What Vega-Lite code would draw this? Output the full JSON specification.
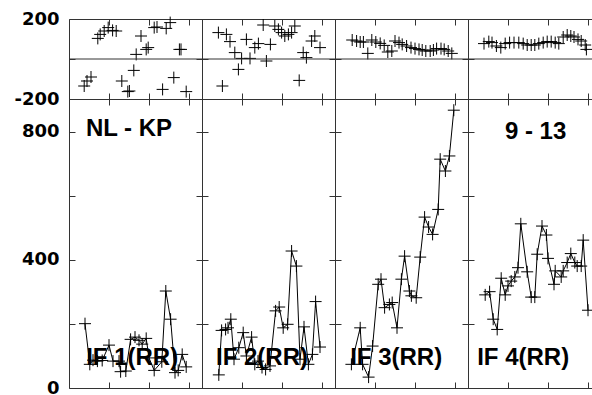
{
  "$schema": "https://vega.github.io/schema/vega-lite/v6.json",
  "padding": {"left": 13, "top": 9, "right": 5, "bottom": 5},
  "config": {
    "view": {"stroke": "#333", "strokeWidth": 1},
    "axis": {"labels": false, "domain": false, "grid": false, "ticks": true, "tickSize": -6, "tickColor": "#333", "tickWidth": 1, "labelFont": "DejaVu Sans", "labelFontSize": 18, "labelFontWeight": "bold", "labelColor": "black", "labelPadding": 16, "labelFlush": false, "labelOverlap": false}
  },
  "datasets": {
    "amp": [
      {"p":1,"x":0.40,"y":201},{"p":1,"x":0.52,"y":74},{"p":1,"x":0.60,"y":87},{"p":1,"x":0.71,"y":84},{"p":1,"x":0.83,"y":86},{"p":1,"x":1.00,"y":134},{"p":1,"x":1.10,"y":84},{"p":1,"x":1.25,"y":84},{"p":1,"x":1.29,"y":51},{"p":1,"x":1.42,"y":53},{"p":1,"x":1.54,"y":152},{"p":1,"x":1.65,"y":159},{"p":1,"x":1.75,"y":149},{"p":1,"x":1.83,"y":137},{"p":1,"x":1.93,"y":155},{"p":1,"x":2.00,"y":94},{"p":1,"x":2.13,"y":55},{"p":1,"x":2.32,"y":82},{"p":1,"x":2.42,"y":303},{"p":1,"x":2.54,"y":215},{"p":1,"x":2.65,"y":48},{"p":1,"x":2.73,"y":55},{"p":1,"x":2.83,"y":105},{"p":1,"x":2.93,"y":66},
      {"p":2,"x":0.42,"y":41},{"p":2,"x":0.49,"y":180},{"p":2,"x":0.59,"y":183},{"p":2,"x":0.65,"y":188},{"p":2,"x":0.72,"y":215},{"p":2,"x":0.80,"y":90},{"p":2,"x":0.92,"y":126},{"p":2,"x":1.03,"y":173},{"p":2,"x":1.11,"y":100},{"p":2,"x":1.24,"y":159},{"p":2,"x":1.32,"y":74},{"p":2,"x":1.40,"y":84},{"p":2,"x":1.50,"y":64},{"p":2,"x":1.59,"y":58},{"p":2,"x":1.70,"y":69},{"p":2,"x":1.84,"y":241},{"p":2,"x":1.93,"y":253},{"p":2,"x":2.03,"y":188},{"p":2,"x":2.14,"y":199},{"p":2,"x":2.24,"y":428},{"p":2,"x":2.36,"y":381},{"p":2,"x":2.45,"y":90},{"p":2,"x":2.55,"y":191},{"p":2,"x":2.66,"y":74},{"p":2,"x":2.76,"y":105},{"p":2,"x":2.84,"y":270},{"p":2,"x":2.95,"y":128},
      {"p":3,"x":0.41,"y":74},{"p":3,"x":0.63,"y":188},{"p":3,"x":0.69,"y":74},{"p":3,"x":0.84,"y":34},{"p":3,"x":0.94,"y":131},{"p":3,"x":1.08,"y":324},{"p":3,"x":1.15,"y":340},{"p":3,"x":1.24,"y":251},{"p":3,"x":1.36,"y":261},{"p":3,"x":1.43,"y":267},{"p":3,"x":1.55,"y":188},{"p":3,"x":1.66,"y":340},{"p":3,"x":1.74,"y":412},{"p":3,"x":1.86,"y":303},{"p":3,"x":1.91,"y":288},{"p":3,"x":2.03,"y":282},{"p":3,"x":2.13,"y":409},{"p":3,"x":2.24,"y":534},{"p":3,"x":2.34,"y":503},{"p":3,"x":2.44,"y":480},{"p":3,"x":2.58,"y":558},{"p":3,"x":2.63,"y":715},{"p":3,"x":2.76,"y":678},{"p":3,"x":2.86,"y":725},{"p":3,"x":2.97,"y":868},
      {"p":4,"x":0.43,"y":291},{"p":4,"x":0.54,"y":301},{"p":4,"x":0.63,"y":215},{"p":4,"x":0.73,"y":183},{"p":4,"x":0.83,"y":343},{"p":4,"x":0.93,"y":291},{"p":4,"x":1.00,"y":319},{"p":4,"x":1.08,"y":334},{"p":4,"x":1.17,"y":347},{"p":4,"x":1.25,"y":376},{"p":4,"x":1.32,"y":513},{"p":4,"x":1.48,"y":363},{"p":4,"x":1.58,"y":284},{"p":4,"x":1.67,"y":284},{"p":4,"x":1.73,"y":418},{"p":4,"x":1.85,"y":506},{"p":4,"x":1.96,"y":478},{"p":4,"x":2.00,"y":405},{"p":4,"x":2.15,"y":324},{"p":4,"x":2.18,"y":366},{"p":4,"x":2.33,"y":347},{"p":4,"x":2.38,"y":366},{"p":4,"x":2.48,"y":392},{"p":4,"x":2.57,"y":420},{"p":4,"x":2.67,"y":392},{"p":4,"x":2.73,"y":381},{"p":4,"x":2.83,"y":381},{"p":4,"x":2.88,"y":462},{"p":4,"x":3.00,"y":243}
    ],
    "ph": [
      {"p":1,"x":0.38,"y":-135},{"p":1,"x":0.45,"y":-110},{"p":1,"x":0.55,"y":-90},{"p":1,"x":0.72,"y":103},{"p":1,"x":0.78,"y":123},{"p":1,"x":0.88,"y":140},{"p":1,"x":0.98,"y":157},{"p":1,"x":1.09,"y":143},{"p":1,"x":1.18,"y":140},{"p":1,"x":1.32,"y":-110},{"p":1,"x":1.47,"y":-163},{"p":1,"x":1.51,"y":-160},{"p":1,"x":1.62,"y":-57},{"p":1,"x":1.68,"y":23},{"p":1,"x":1.80,"y":115},{"p":1,"x":1.93,"y":48},{"p":1,"x":1.98,"y":57},{"p":1,"x":2.13,"y":157},{"p":1,"x":2.20,"y":160},{"p":1,"x":2.34,"y":-152},{"p":1,"x":2.43,"y":153},{"p":1,"x":2.53,"y":182},{"p":1,"x":2.62,"y":-93},{"p":1,"x":2.76,"y":48},{"p":1,"x":2.80,"y":48},{"p":1,"x":2.93,"y":-163},
      {"p":2,"x":0.41,"y":132},{"p":2,"x":0.51,"y":-135},{"p":2,"x":0.61,"y":123},{"p":2,"x":0.70,"y":87},{"p":2,"x":0.82,"y":32},{"p":2,"x":0.91,"y":-52},{"p":2,"x":0.99,"y":3},{"p":2,"x":1.11,"y":98},{"p":2,"x":1.20,"y":3},{"p":2,"x":1.32,"y":57},{"p":2,"x":1.41,"y":77},{"p":2,"x":1.53,"y":170},{"p":2,"x":1.61,"y":-10},{"p":2,"x":1.71,"y":73},{"p":2,"x":1.82,"y":165},{"p":2,"x":1.91,"y":148},{"p":2,"x":1.99,"y":132},{"p":2,"x":2.07,"y":115},{"p":2,"x":2.16,"y":123},{"p":2,"x":2.24,"y":132},{"p":2,"x":2.32,"y":165},{"p":2,"x":2.43,"y":-107},{"p":2,"x":2.53,"y":32},{"p":2,"x":2.61,"y":7},{"p":2,"x":2.74,"y":90},{"p":2,"x":2.82,"y":115},{"p":2,"x":2.95,"y":57},
      {"p":3,"x":0.43,"y":95},{"p":3,"x":0.54,"y":90},{"p":3,"x":0.63,"y":85},{"p":3,"x":0.71,"y":85},{"p":3,"x":0.82,"y":28},{"p":3,"x":0.92,"y":95},{"p":3,"x":1.02,"y":85},{"p":3,"x":1.13,"y":78},{"p":3,"x":1.23,"y":68},{"p":3,"x":1.32,"y":35},{"p":3,"x":1.42,"y":40},{"p":3,"x":1.50,"y":90},{"p":3,"x":1.60,"y":82},{"p":3,"x":1.68,"y":73},{"p":3,"x":1.79,"y":65},{"p":3,"x":1.90,"y":57},{"p":3,"x":2.00,"y":52},{"p":3,"x":2.10,"y":48},{"p":3,"x":2.18,"y":45},{"p":3,"x":2.27,"y":40},{"p":3,"x":2.38,"y":40},{"p":3,"x":2.46,"y":45},{"p":3,"x":2.54,"y":52},{"p":3,"x":2.65,"y":52},{"p":3,"x":2.73,"y":48},{"p":3,"x":2.83,"y":40},{"p":3,"x":2.92,"y":28},
      {"p":4,"x":0.40,"y":77},{"p":4,"x":0.52,"y":87},{"p":4,"x":0.60,"y":82},{"p":4,"x":0.71,"y":65},{"p":4,"x":0.82,"y":57},{"p":4,"x":0.93,"y":77},{"p":4,"x":1.04,"y":82},{"p":4,"x":1.15,"y":82},{"p":4,"x":1.27,"y":82},{"p":4,"x":1.38,"y":77},{"p":4,"x":1.48,"y":70},{"p":4,"x":1.58,"y":70},{"p":4,"x":1.67,"y":70},{"p":4,"x":1.77,"y":77},{"p":4,"x":1.88,"y":82},{"p":4,"x":1.98,"y":87},{"p":4,"x":2.08,"y":87},{"p":4,"x":2.18,"y":82},{"p":4,"x":2.27,"y":77},{"p":4,"x":2.38,"y":110},{"p":4,"x":2.48,"y":120},{"p":4,"x":2.57,"y":115},{"p":4,"x":2.65,"y":110},{"p":4,"x":2.75,"y":98},{"p":4,"x":2.83,"y":90},{"p":4,"x":2.93,"y":70},{"p":4,"x":2.96,"y":48}
    ],
    "lbl": [
      {"p":1,"x":1.58,"y":94,"t":"IF 1(RR)"},{"p":2,"x":1.50,"y":94,"t":"IF 2(RR)"},{"p":3,"x":1.53,"y":94,"t":"IF 3(RR)"},{"p":4,"x":1.38,"y":94,"t":"IF 4(RR)"},{"p":1,"x":1.5,"y":809,"t":"NL - KP"},{"p":4,"x":1.69,"y":800,"t":"9 - 13"}
    ]
  },
  "columns": 4,
  "spacing": 0,
  "bounds": "flush",
  "concat": [
      {"width":133,"height":80,"layer":[
        {"data":{"name":"ph"},"transform":[{"filter":"datum.p==1"}],"mark":{"type":"point","shape":"M-1,0H1M0,-1V1","size":144,"filled":false,"stroke":"black","strokeWidth":1,"opacity":1},
         "encoding":{"x":{"field":"x","type":"quantitative","scale":{"domain":[0,3.325],"nice":false,"zero":false},"axis":{"orient":"bottom","values":[1,2,3],"title":null}},
                     "y":{"field":"y","type":"quantitative","scale":{"domain":[-200,200],"nice":false,"zero":false},"axis":{"orient":"left","values":[-200,0,200],"title":null,"labels":true,"labelExpr":"datum.value == 200 ? '200' : (datum.value == -200 ? '-200' : '')"}}}},
        {"data":{"values":[{}]},"mark":{"type":"rule","color":"#333","strokeWidth":1},
         "encoding":{"x":{"datum":0,"type":"quantitative","scale":{"domain":[0,3.325],"nice":false,"zero":false},"axis":{"orient":"top","values":[1,2,3],"title":null}},"x2":{"datum":3.325},
                     "y":{"datum":0,"type":"quantitative","scale":{"domain":[-200,200],"nice":false,"zero":false},"axis":{"orient":"right","values":[-200,0,200],"title":null}}}}
      ]},
      {"width":133,"height":80,"layer":[
        {"data":{"name":"ph"},"transform":[{"filter":"datum.p==2"}],"mark":{"type":"point","shape":"M-1,0H1M0,-1V1","size":144,"filled":false,"stroke":"black","strokeWidth":1,"opacity":1},
         "encoding":{"x":{"field":"x","type":"quantitative","scale":{"domain":[0,3.325],"nice":false,"zero":false},"axis":{"orient":"bottom","values":[1,2,3],"title":null}},
                     "y":{"field":"y","type":"quantitative","scale":{"domain":[-200,200],"nice":false,"zero":false},"axis":{"orient":"left","values":[-200,0,200],"title":null}}}},
        {"data":{"values":[{}]},"mark":{"type":"rule","color":"#333","strokeWidth":1},
         "encoding":{"x":{"datum":0,"type":"quantitative","scale":{"domain":[0,3.325],"nice":false,"zero":false},"axis":{"orient":"top","values":[1,2,3],"title":null}},"x2":{"datum":3.325},
                     "y":{"datum":0,"type":"quantitative","scale":{"domain":[-200,200],"nice":false,"zero":false},"axis":{"orient":"right","values":[-200,0,200],"title":null}}}}
      ]},
      {"width":133,"height":80,"layer":[
        {"data":{"name":"ph"},"transform":[{"filter":"datum.p==3"}],"mark":{"type":"point","shape":"M-1,0H1M0,-1V1","size":144,"filled":false,"stroke":"black","strokeWidth":1,"opacity":1},
         "encoding":{"x":{"field":"x","type":"quantitative","scale":{"domain":[0,3.325],"nice":false,"zero":false},"axis":{"orient":"bottom","values":[1,2,3],"title":null}},
                     "y":{"field":"y","type":"quantitative","scale":{"domain":[-200,200],"nice":false,"zero":false},"axis":{"orient":"left","values":[-200,0,200],"title":null}}}},
        {"data":{"values":[{}]},"mark":{"type":"rule","color":"#333","strokeWidth":1},
         "encoding":{"x":{"datum":0,"type":"quantitative","scale":{"domain":[0,3.325],"nice":false,"zero":false},"axis":{"orient":"top","values":[1,2,3],"title":null}},"x2":{"datum":3.325},
                     "y":{"datum":0,"type":"quantitative","scale":{"domain":[-200,200],"nice":false,"zero":false},"axis":{"orient":"right","values":[-200,0,200],"title":null}}}}
      ]},
      {"width":133,"height":80,"layer":[
        {"data":{"name":"ph"},"transform":[{"filter":"datum.p==4"}],"mark":{"type":"point","shape":"M-1,0H1M0,-1V1","size":144,"filled":false,"stroke":"black","strokeWidth":1,"opacity":1},
         "encoding":{"x":{"field":"x","type":"quantitative","scale":{"domain":[0,3.325],"nice":false,"zero":false},"axis":{"orient":"bottom","values":[1,2,3],"title":null}},
                     "y":{"field":"y","type":"quantitative","scale":{"domain":[-200,200],"nice":false,"zero":false},"axis":{"orient":"left","values":[-200,0,200],"title":null}}}},
        {"data":{"values":[{}]},"mark":{"type":"rule","color":"#333","strokeWidth":1},
         "encoding":{"x":{"datum":0,"type":"quantitative","scale":{"domain":[0,3.325],"nice":false,"zero":false},"axis":{"orient":"top","values":[1,2,3],"title":null}},"x2":{"datum":3.325},
                     "y":{"datum":0,"type":"quantitative","scale":{"domain":[-200,200],"nice":false,"zero":false},"axis":{"orient":"right","values":[-200,0,200],"title":null}}}}
      ]},
      {"width":133,"height":289,"layer":[
        {"data":{"name":"amp"},"transform":[{"filter":"datum.p==1"}],"mark":{"type":"line","color":"black","strokeWidth":1},
         "encoding":{"x":{"field":"x","type":"quantitative","scale":{"domain":[0,3.325],"nice":false,"zero":false},"axis":{"orient":"bottom","values":[1,2,3],"title":null}},
                     "y":{"field":"y","type":"quantitative","scale":{"domain":[0,903],"nice":false,"zero":false},"axis":{"orient":"left","values":[0,200,400,600,800],"title":null,"labels":true,"labelExpr":"datum.value % 400 == 0 ? datum.label : ''"}}}},
        {"data":{"name":"amp"},"transform":[{"filter":"datum.p==1"}],"mark":{"type":"point","shape":"M-1,0H1M0,-1V1","size":144,"filled":false,"stroke":"black","strokeWidth":1,"opacity":1},
         "encoding":{"x":{"field":"x","type":"quantitative","scale":{"domain":[0,3.325],"nice":false,"zero":false},"axis":{"orient":"top","values":[1,2,3],"title":null}},
                     "y":{"field":"y","type":"quantitative","scale":{"domain":[0,903],"nice":false,"zero":false},"axis":{"orient":"right","values":[0,200,400,600,800],"title":null}}}},
        {"data":{"name":"lbl"},"transform":[{"filter":"datum.p==1"}],"mark":{"type":"text","font":"Liberation Sans","fontWeight":"bold","fontSize":24,"color":"black","align":"center","baseline":"middle"},
         "encoding":{"x":{"field":"x","type":"quantitative","axis":null},"y":{"field":"y","type":"quantitative","axis":null},"text":{"field":"t"}}}
      ]},
      {"width":133,"height":289,"layer":[
        {"data":{"name":"amp"},"transform":[{"filter":"datum.p==2"}],"mark":{"type":"line","color":"black","strokeWidth":1},
         "encoding":{"x":{"field":"x","type":"quantitative","scale":{"domain":[0,3.325],"nice":false,"zero":false},"axis":{"orient":"bottom","values":[1,2,3],"title":null}},
                     "y":{"field":"y","type":"quantitative","scale":{"domain":[0,903],"nice":false,"zero":false},"axis":{"orient":"left","values":[0,200,400,600,800],"title":null}}}},
        {"data":{"name":"amp"},"transform":[{"filter":"datum.p==2"}],"mark":{"type":"point","shape":"M-1,0H1M0,-1V1","size":144,"filled":false,"stroke":"black","strokeWidth":1,"opacity":1},
         "encoding":{"x":{"field":"x","type":"quantitative","scale":{"domain":[0,3.325],"nice":false,"zero":false},"axis":{"orient":"top","values":[1,2,3],"title":null}},
                     "y":{"field":"y","type":"quantitative","scale":{"domain":[0,903],"nice":false,"zero":false},"axis":{"orient":"right","values":[0,200,400,600,800],"title":null}}}},
        {"data":{"name":"lbl"},"transform":[{"filter":"datum.p==2"}],"mark":{"type":"text","font":"Liberation Sans","fontWeight":"bold","fontSize":24,"color":"black","align":"center","baseline":"middle"},
         "encoding":{"x":{"field":"x","type":"quantitative","axis":null},"y":{"field":"y","type":"quantitative","axis":null},"text":{"field":"t"}}}
      ]},
      {"width":133,"height":289,"layer":[
        {"data":{"name":"amp"},"transform":[{"filter":"datum.p==3"}],"mark":{"type":"line","color":"black","strokeWidth":1},
         "encoding":{"x":{"field":"x","type":"quantitative","scale":{"domain":[0,3.325],"nice":false,"zero":false},"axis":{"orient":"bottom","values":[1,2,3],"title":null}},
                     "y":{"field":"y","type":"quantitative","scale":{"domain":[0,903],"nice":false,"zero":false},"axis":{"orient":"left","values":[0,200,400,600,800],"title":null}}}},
        {"data":{"name":"amp"},"transform":[{"filter":"datum.p==3"}],"mark":{"type":"point","shape":"M-1,0H1M0,-1V1","size":144,"filled":false,"stroke":"black","strokeWidth":1,"opacity":1},
         "encoding":{"x":{"field":"x","type":"quantitative","scale":{"domain":[0,3.325],"nice":false,"zero":false},"axis":{"orient":"top","values":[1,2,3],"title":null}},
                     "y":{"field":"y","type":"quantitative","scale":{"domain":[0,903],"nice":false,"zero":false},"axis":{"orient":"right","values":[0,200,400,600,800],"title":null}}}},
        {"data":{"name":"lbl"},"transform":[{"filter":"datum.p==3"}],"mark":{"type":"text","font":"Liberation Sans","fontWeight":"bold","fontSize":24,"color":"black","align":"center","baseline":"middle"},
         "encoding":{"x":{"field":"x","type":"quantitative","axis":null},"y":{"field":"y","type":"quantitative","axis":null},"text":{"field":"t"}}}
      ]},
      {"width":133,"height":289,"layer":[
        {"data":{"name":"amp"},"transform":[{"filter":"datum.p==4"}],"mark":{"type":"line","color":"black","strokeWidth":1},
         "encoding":{"x":{"field":"x","type":"quantitative","scale":{"domain":[0,3.325],"nice":false,"zero":false},"axis":{"orient":"bottom","values":[1,2,3],"title":null}},
                     "y":{"field":"y","type":"quantitative","scale":{"domain":[0,903],"nice":false,"zero":false},"axis":{"orient":"left","values":[0,200,400,600,800],"title":null}}}},
        {"data":{"name":"amp"},"transform":[{"filter":"datum.p==4"}],"mark":{"type":"point","shape":"M-1,0H1M0,-1V1","size":144,"filled":false,"stroke":"black","strokeWidth":1,"opacity":1},
         "encoding":{"x":{"field":"x","type":"quantitative","scale":{"domain":[0,3.325],"nice":false,"zero":false},"axis":{"orient":"top","values":[1,2,3],"title":null}},
                     "y":{"field":"y","type":"quantitative","scale":{"domain":[0,903],"nice":false,"zero":false},"axis":{"orient":"right","values":[0,200,400,600,800],"title":null}}}},
        {"data":{"name":"lbl"},"transform":[{"filter":"datum.p==4"}],"mark":{"type":"text","font":"Liberation Sans","fontWeight":"bold","fontSize":24,"color":"black","align":"center","baseline":"middle"},
         "encoding":{"x":{"field":"x","type":"quantitative","axis":null},"y":{"field":"y","type":"quantitative","axis":null},"text":{"field":"t"}}}
      ]}
  ]
}
